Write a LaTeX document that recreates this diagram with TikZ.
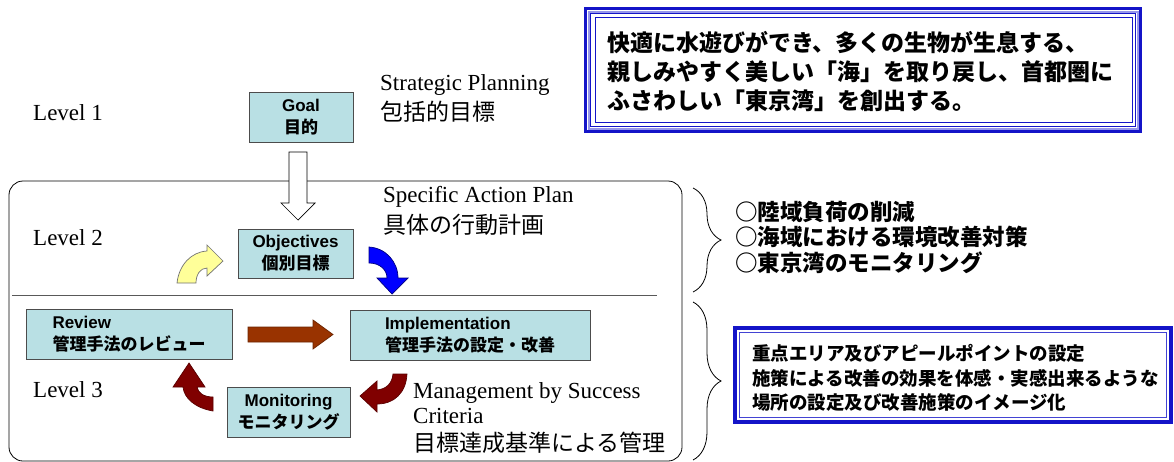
\documentclass[tikz,border=0pt]{standalone}
\usepackage{fontspec}
\setmainfont{Liberation Serif}
\newfontfamily\jp{Noto Sans CJK JP}
\newfontfamily\ar{Liberation Sans}
\usetikzlibrary{decorations.pathreplacing}
\definecolor{boxcyan}{RGB}{185,224,228}
\definecolor{tblue}{RGB}{20,20,200}
\definecolor{lblue}{RGB}{150,150,235}
\definecolor{darkred}{RGB}{128,0,0}
\definecolor{arrbrown}{RGB}{153,51,0}
\definecolor{lyellow}{RGB}{255,255,153}
\definecolor{arrblue}{RGB}{0,0,255}
\tikzset{
  box/.style={draw=black!70, line width=0.9pt, fill=boxcyan, inner sep=0pt},
  serif/.style={anchor=west, inner sep=0pt, font=\fontsize{23}{27}\selectfont},
  jptext/.style={anchor=west, inner sep=0pt, font=\jp\fontsize{23}{27}\selectfont},
  bracestyle/.style={decorate, decoration={brace, amplitude=28pt, aspect=0.5}, line width=0.8pt},
  blockarrow/.style={line width=0.7pt, line join=miter},
}
\newcommand{\bl}[1]{{\ar\bfseries #1}}
\newcommand{\bj}[1]{{\jp\bfseries #1}}
\begin{document}
\begin{tikzpicture}[x=1pt,y=-1pt]
\useasboundingbox (0,0) rectangle (1174,461);
\fill[white] (0,0) rectangle (1174,461);

% big rounded frame and separator
\draw[line width=0.8pt, rounded corners=14pt] (9,181) rectangle (682,461);
\draw[line width=1pt, black!65] (12,295) -- (657,295);

% top-right goal statement box
\draw[tblue, line width=3pt] (585.5,8.5) rectangle (1140.5,131.5);
\draw[lblue, line width=2pt] (588.5,11.5) rectangle (1137.5,128.5);
\draw[tblue, line width=1pt] (590.5,13.5) rectangle (1135.5,126.5);
\draw[tblue, line width=1pt] (595.5,17.5) rectangle (1132.5,122.5);
\node (vision) [anchor=west, inner sep=0pt, align=left, font=\jp\bfseries\fontsize{23}{29}\selectfont]
  at (607,72) {快適に水遊びができ、多くの生物が生息する、\\親しみやすく美しい「海」を取り戻し、首都圏に\\ふさわしい「東京湾」を創出する。};

% level labels
\node (lv1) [serif] at (33,113) {Level 1};
\node (lv2) [serif] at (33,238) {Level 2};
\node (lv3) [serif] at (33,390) {Level 3};

% side texts
\node (sp1) [serif] at (380,85) {Strategic Planning};
\node (sp2) [jptext] at (380,112) {包括的目標};
\node (sa1) [serif] at (383,197) {Specific Action Plan};
\node (sa2) [jptext] at (383,225) {具体の行動計画};
\node (mb1) [serif, align=left, font=\fontsize{23}{25}\selectfont] at (413,403) {Management by Success\\Criteria};
\node (mb2) [jptext] at (413,443) {目標達成基準による管理};

% boxes
\node (goal) [box, minimum width=104pt, minimum height=50pt, align=center, font=\fontsize{17}{22}\selectfont]
  at (301,117) {\bl{Goal}\\\bj{目的}};
\node (obj) [box, minimum width=115pt, minimum height=49pt, align=center, font=\fontsize{17}{22}\selectfont]
  at (295.5,253.5) {\bl{Objectives}\\\bj{個別目標}};
\node (rev) [box, minimum width=206pt, minimum height=50pt, align=left, font=\fontsize{17}{22}\selectfont]
  at (129,334) {\bl{Review}\\\bj{管理手法のレビュー}};
\node (imp) [box, minimum width=240pt, minimum height=50pt, align=left, font=\fontsize{17}{22}\selectfont]
  at (470,335) {\bl{Implementation}\\\bj{管理手法の設定・改善}};
\node (mon) [box, minimum width=123pt, minimum height=50pt, align=center, font=\fontsize{17}{22}\selectfont]
  at (288.5,412) {\bl{Monitoring}\\\bj{モニタリング}};

% hollow arrow goal -> objectives
\draw[blockarrow, fill=white, draw=black]
  (289,152) -- (307,152) -- (307,203) -- (315,203) -- (298,220) -- (281,203) -- (289,203) -- cycle;

% yellow curved arrow
\draw[blockarrow, fill=lyellow, draw=black!55]
  (177,283) .. controls (179,265) and (191,252) .. (207,251)
  -- (207,245) -- (223,261) -- (207,276) -- (207,268)
  .. controls (200,268) and (196,275) .. (196,283) -- cycle;

% blue curved arrow
\draw[blockarrow, fill=arrblue, draw=blue!50!black]
  (369,247) .. controls (386,248) and (398,262) .. (398,278)
  -- (408,278) -- (392,294) -- (377,278) -- (387,278)
  .. controls (387,270) and (380,263) .. (369,263) -- cycle;

% brown straight arrow review -> implementation
\draw[blockarrow, fill=arrbrown, draw=arrbrown!70!black]
  (248,327) -- (313,327) -- (313,320) -- (333,334.5) -- (313,349) -- (313,342) -- (248,342) -- cycle;

% dark red curved arrow implementation -> monitoring
\draw[blockarrow, fill=darkred, draw=darkred!70!black]
  (407,374) .. controls (406,393) and (394,404) .. (377,404)
  -- (377,412) -- (360,396) -- (377,381) -- (377,390)
  .. controls (386,389) and (392,384) .. (393,374) -- cycle;

% dark red curved arrow monitoring -> review
\draw[blockarrow, fill=darkred, draw=darkred!70!black]
  (213,411) .. controls (195,408) and (184,398) .. (183,387)
  -- (173,387) -- (189,363) -- (205,387) -- (197,387)
  .. controls (198,393) and (204,397) .. (213,397) -- cycle;

% braces
\coordinate (b1t) at (693,188);
\coordinate (b1b) at (693,292);
\coordinate (b2t) at (693,302);
\coordinate (b2b) at (693,460);
\draw[bracestyle] (b1t) -- (b1b);
\draw[bracestyle] (b2t) -- (b2b);

% measures list
\node (list) [anchor=west, inner sep=0pt, align=left, font=\jp\bfseries\fontsize{22.5}{25.5}\selectfont]
  at (735,237) {○陸域負荷の削減\\○海域における環境改善対策\\○東京湾のモニタリング};

% lower right box
\draw[tblue, line width=4pt] (735,328) rectangle (1171,422);
\draw[tblue!80, line width=1.2pt] (739.5,332.5) rectangle (1166.5,417.5);
\node (focus) [anchor=west, inner sep=0pt, align=left, font=\jp\bfseries\fontsize{18.5}{24.5}\selectfont]
  at (752,378) {重点エリア及びアピールポイントの設定\\施策による改善の効果を体感・実感出来るような\\場所の設定及び改善施策のイメージ化};
\end{tikzpicture}
\end{document}
